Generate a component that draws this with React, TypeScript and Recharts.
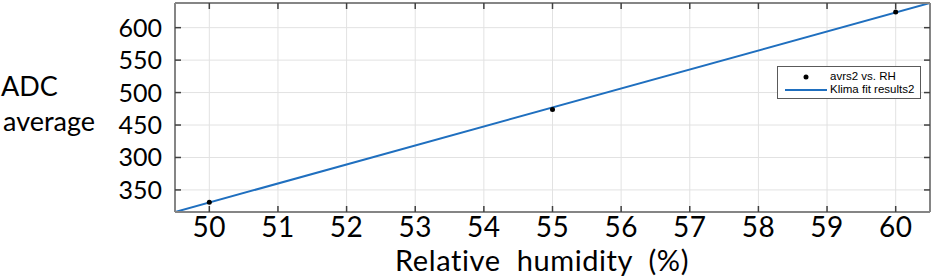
import React from "react";
import {
  ComposedChart,
  Line,
  Scatter,
  XAxis,
  YAxis,
  CartesianGrid,
  Legend,
} from "recharts";

// Measured data (Relative humidity % vs ADC average)
const humidity = [50, 55, 60];
const adcAverage = [331, 474, 624];

// Fit line endpoints (clipped to the axes box)
const fitHumidity = [49.5, 60.5];
const fitAdc = [316, 638];

const xTicks = [50, 51, 52, 53, 54, 55, 56, 57, 58, 59, 60];
const yTickValues = [350, 400, 450, 500, 550, 600];
const yTickLabels = ["350", "300", "450", "500", "550", "600"];

const xDomain = [49.5, 60.5];
const yDomain = [316, 638];

const scatterData = humidity.map((h, i) => ({ x: h, y: adcAverage[i] }));
const fitData = fitHumidity.map((h, i) => ({ x: h, y: fitAdc[i] }));

const FONT = "Lato, 'Open Sans', sans-serif";
const FRAME = "#858585";
const TICK = "#404040";
const BLUE = "#1f6fbf";

const LeftTick = (props: any) => {
  const { x, y, index } = props;
  return (
    <g>
      <line x1={x} x2={x + 6} y1={y} y2={y} stroke={TICK} strokeWidth={1.5} />
      <text
        x={x - 13}
        y={y}
        dy="0.36em"
        textAnchor="end"
        fontFamily={FONT}
        fontSize={25}
        fill="#000"
      >
        {yTickLabels[index]}
      </text>
    </g>
  );
};

const RightTick = (props: any) => {
  const { x, y } = props;
  return <line x1={x - 6} x2={x} y1={y} y2={y} stroke={TICK} strokeWidth={1.5} />;
};

const TopTick = (props: any) => {
  const { x, y } = props;
  return <line x1={x} x2={x} y1={y} y2={y + 6} stroke={TICK} strokeWidth={1.5} />;
};

const BottomTick = (props: any) => {
  const { x, y, payload } = props;
  return (
    <g>
      <line x1={x} x2={x} y1={y} y2={y - 6} stroke={TICK} strokeWidth={1.5} />
      <text
        x={x}
        y={y + 25}
        textAnchor="middle"
        fontFamily={FONT}
        fontSize={28}
        letterSpacing={0.5}
        fill="#000"
      >
        {payload.value}
      </text>
    </g>
  );
};

const Dot = (props: any) => {
  const { cx, cy } = props;
  return <circle cx={cx} cy={cy} r={2.5} fill="#000" />;
};

const LegendBox = () => (
  <div
    style={{
      width: 144,
      height: 33,
      border: "1.5px solid #5a5a5a",
      background: "#fff",
      boxSizing: "border-box",
      fontFamily: "'Liberation Sans', Arial, sans-serif",
      fontSize: 11.5,
      color: "#000",
      position: "relative",
    }}
  >
    <svg width={50} height={30} style={{ position: "absolute", left: 0, top: 0 }}>
      <circle cx={28} cy={10} r={2.5} fill="#000" />
      <line x1={7} x2={49} y1={23} y2={23} stroke={BLUE} strokeWidth={2} />
    </svg>
    <div style={{ position: "absolute", left: 52, top: 3, lineHeight: "13px", whiteSpace: "nowrap" }}>
      avrs2 vs. RH
    </div>
    <div style={{ position: "absolute", left: 52, top: 16, lineHeight: "13px", whiteSpace: "nowrap" }}>
      Klima fit results2
    </div>
  </div>
);

export default function App() {
  return (
    <div style={{ position: "absolute", left: 0, top: 0, width: 934, height: 277, background: "#fff" }}>
      <ComposedChart
        width={934}
        height={277}
        margin={{ top: 2, right: 3, left: 0, bottom: 0 }}
      >
        <CartesianGrid stroke="#e2e2e2" strokeWidth={1} />
        <XAxis
          type="number"
          dataKey="x"
          domain={xDomain}
          ticks={xTicks}
          allowDataOverflow
          height={65}
          axisLine={{ stroke: FRAME, strokeWidth: 2 }}
          tickLine={false}
          tickSize={0}
          tickMargin={0}
          tick={<BottomTick />}
          interval={0}
          label={{
            content: () => (
              <text
                x={542}
                y={271}
                textAnchor="middle"
                fontFamily={FONT}
                fontSize={29}
                letterSpacing={0.6}
                wordSpacing={8}
                fill="#000"
              >
                Relative humidity (%)
              </text>
            ),
          }}
        />
        <XAxis
          xAxisId="top"
          type="number"
          dataKey="x"
          orientation="top"
          domain={xDomain}
          ticks={xTicks}
          allowDataOverflow
          height={1}
          axisLine={{ stroke: FRAME, strokeWidth: 2 }}
          tickLine={false}
          tickSize={0}
          tickMargin={0}
          tick={<TopTick />}
          interval={0}
        />
        <YAxis
          type="number"
          domain={yDomain}
          ticks={yTickValues}
          allowDataOverflow
          width={175}
          axisLine={{ stroke: FRAME, strokeWidth: 2 }}
          tickLine={false}
          tickSize={0}
          tickMargin={0}
          tick={<LeftTick />}
          interval={0}
          label={{
            content: () => (
              <g fontFamily={FONT} fontSize={27} fill="#000">
                <text x={1} y={96}>ADC</text>
                <text x={3} y={131}>average</text>
              </g>
            ),
          }}
        />
        <YAxis
          yAxisId="right"
          type="number"
          orientation="right"
          domain={yDomain}
          ticks={yTickValues}
          allowDataOverflow
          width={1}
          axisLine={{ stroke: FRAME, strokeWidth: 2 }}
          tickLine={false}
          tickSize={0}
          tickMargin={0}
          tick={<RightTick />}
          interval={0}
        />
        <Line
          data={fitData}
          dataKey="y"
          type="linear"
          stroke={BLUE}
          strokeWidth={2}
          dot={false}
          activeDot={false}
          isAnimationActive={false}
          legendType="line"
          name="Klima fit results2"
        />
        <Scatter
          data={scatterData}
          dataKey="y"
          shape={<Dot />}
          isAnimationActive={false}
          name="avrs2 vs. RH"
        />
        <Legend
          layout="vertical"
          align="center"
          verticalAlign="middle"
          content={() => <LegendBox />}
          wrapperStyle={{ left: 777, top: 66, width: 146, height: 35 }}
        />
      </ComposedChart>
    </div>
  );
}
